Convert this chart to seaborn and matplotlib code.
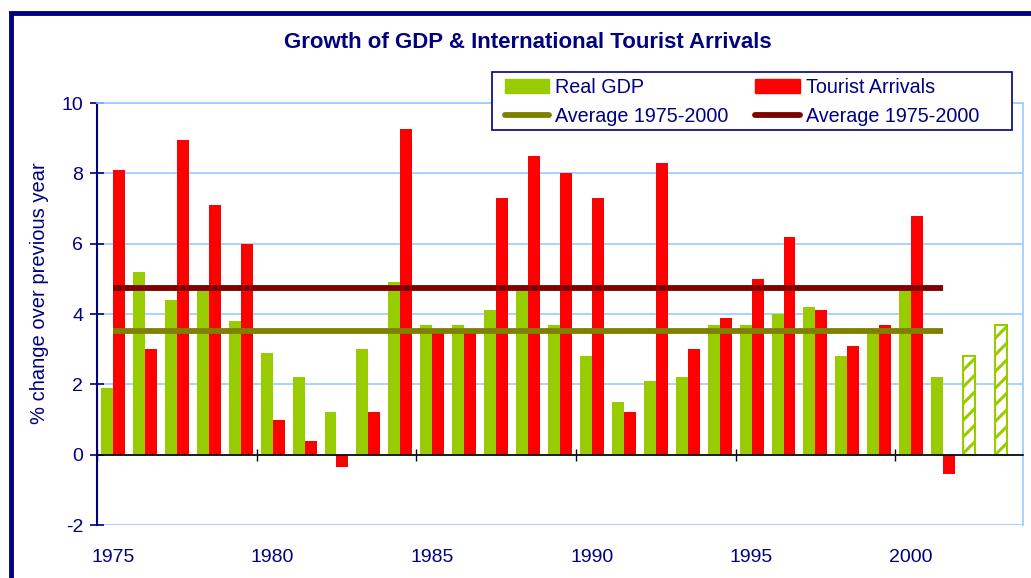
import numpy as np
import pandas as pd
import matplotlib
matplotlib.use('Agg')
import matplotlib.pyplot as plt
from matplotlib.patches import Patch, Rectangle
from matplotlib.lines import Line2D
import seaborn as sns

# values
years = list(range(1975, 2004))
real_gdp = [1.9, 5.2, 4.4, 4.7, 3.8, 2.9, 2.2, 1.2, 3.0, 4.9,
            3.7, 3.7, 4.1, 4.7, 3.7, 2.8, 1.5, 2.1, 2.2, 3.7,
            3.7, 4.0, 4.2, 2.8, 3.5, 4.7, 2.2, 2.8, 3.7]
tourist_arrivals = [8.1, 3.0, 8.95, 7.1, 6.0, 1.0, 0.4, -0.35, 1.2, 9.25,
                    3.45, 3.45, 7.3, 8.5, 8.0, 7.3, 1.2, 8.3, 3.0, 3.9,
                    5.0, 6.2, 4.1, 3.1, 3.7, 6.8, -0.55, np.nan, np.nan]
forecast_years = [2002, 2003]
gdp_avg = 3.53
arrivals_avg = 4.75
avg_first_year, avg_last_year = 1975, 2001
label_years = [1975, 1980, 1985, 1990, 1995, 2000]

series = ['Real GDP', 'Tourist Arrivals']
avg_label = 'Average 1975-2000'

NAVY = '#000080'
GREEN = '#99CC00'
RED = '#FF0000'
OLIVE = '#808000'
DARKRED = '#800000'
GRID = '#99CCFF'

n = len(years)
df = pd.DataFrame({
    'year': [str(y) for y in years] * 2,
    'series': [series[0]] * n + [series[1]] * n,
    'value': real_gdp + tourist_arrivals,
}).dropna()

sns.set_theme(style='white')
plt.rcParams['font.family'] = ['Liberation Sans', 'DejaVu Sans']
plt.rcParams['axes.unicode_minus'] = False
plt.rcParams['hatch.linewidth'] = 2.2

fig = plt.figure(figsize=(10.31, 5.78), dpi=100)
ax = fig.add_axes([97 / 1031, 1 - 525 / 578, 926 / 1031, 422 / 578])

sns.barplot(data=df, x='year', y='value', hue='series',
            order=[str(y) for y in years], hue_order=series,
            palette={series[0]: GREEN, series[1]: RED}, saturation=1,
            width=0.75, errorbar=None, legend=False, linewidth=0, ax=ax)

# forecast years drawn hatched
for bar, yr in zip(ax.containers[0], years):
    if yr in forecast_years:
        bar.set_facecolor('white')
        bar.set_edgecolor(GREEN)
        bar.set_linewidth(1.5)
        bar.set_hatch('//')

i0, i1 = years.index(avg_first_year), years.index(avg_last_year)
ax.hlines(arrivals_avg, i0, i1, color=DARKRED, lw=4.2, zorder=4)
ax.hlines(gdp_avg, i0, i1, color=OLIVE, lw=4.2, zorder=4)

ax.set_xlim(-0.5, n - 0.5)
ax.set_ylim(-2, 10)
ax.set_yticks(range(-2, 11, 2))
ax.set_xticks([years.index(y) for y in label_years], [str(y) for y in label_years])
ax.set_xticks([years.index(y) - 0.5 for y in label_years], minor=True)
ax.set_xlabel('')
ax.set_ylabel('')

ax.yaxis.grid(True, color=GRID, lw=1.2)
ax.set_axisbelow(True)

ax.spines['bottom'].set_position(('data', 0))
ax.spines['bottom'].set_color('black')
ax.spines['bottom'].set_linewidth(1.2)
ax.spines['bottom'].set_zorder(5)
ax.spines['left'].set_color(NAVY)
ax.spines['left'].set_linewidth(1.5)
for s in ['top', 'right']:
    ax.spines[s].set_color(GRID)
    ax.spines[s].set_linewidth(1.2)

ax.tick_params(axis='x', which='major', bottom=True, length=0, pad=68,
               labelsize=14, labelcolor=NAVY)
ax.tick_params(axis='x', which='minor', bottom=True, length=9,
               direction='inout', color='black', width=1)
ax.tick_params(axis='y', left=True, length=10, direction='inout', color=NAVY,
               width=1.2, pad=5, labelsize=14, labelcolor=NAVY)

fig.text(528 / 1031, 1 - 43 / 578, 'Growth of GDP & International Tourist Arrivals',
         ha='center', va='center', fontsize=16, fontweight='bold', color=NAVY)
fig.text(40 / 1031, 1 - 293 / 578, '% change over previous year', rotation=90,
         ha='center', va='center', fontsize=14.5, color=NAVY)

# legend box drawn separately so the padding matches
fig.patches.append(Rectangle((492 / 1031, 1 - 130 / 578), 520 / 1031, 58 / 578,
                             transform=fig.transFigure, facecolor='white',
                             edgecolor=NAVY, lw=1.2, zorder=4))
handles = [Patch(color=GREEN), Line2D([], [], color=OLIVE, lw=4.2),
           Patch(color=RED), Line2D([], [], color=DARKRED, lw=4.2)]
labels = [series[0], avg_label, series[1], avg_label]
leg = fig.legend(handles, labels, ncol=2, loc='upper left',
                 bbox_to_anchor=(505 / 1031, 1 - 78 / 578),
                 borderaxespad=0, borderpad=0, fontsize=14.2, frameon=False,
                 handlelength=2.25, handletextpad=0.3, labelspacing=0.5,
                 columnspacing=1.35)
leg.set_zorder(5)
for t in leg.get_texts():
    t.set_color(NAVY)

fig.patches.append(Rectangle((10.5 / 1031, -0.1), 1.2, 1.1 - 13 / 578,
                             transform=fig.transFigure, fill=False,
                             edgecolor=NAVY, lw=3.5))

fig.savefig('out.png', dpi=100)
